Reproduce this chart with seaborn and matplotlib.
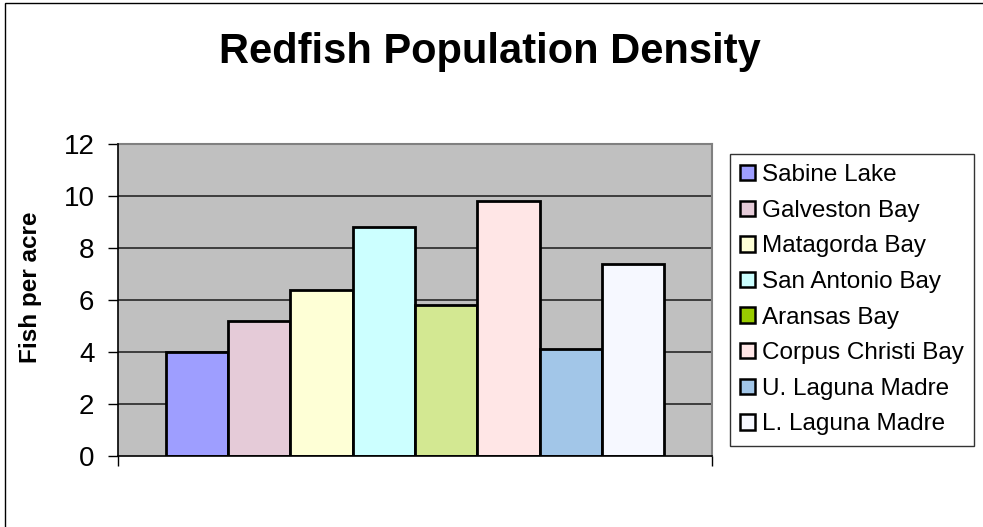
import matplotlib
matplotlib.use("Agg")
import matplotlib.pyplot as plt
from matplotlib.patches import Rectangle
import seaborn as sns
import pandas as pd

# Redfish survey results by bay system
bays = [
    "Sabine Lake",
    "Galveston Bay",
    "Matagorda Bay",
    "San Antonio Bay",
    "Aransas Bay",
    "Corpus Christi Bay",
    "U. Laguna Madre",
    "L. Laguna Madre",
]
density = [4.0, 5.2, 6.4, 8.8, 5.8, 9.8, 4.1, 7.4]
bar_colors = ["#9E9EFF", "#E5CBD8", "#FEFFD6", "#CCFFFF",
              "#D3E892", "#FFE6E6", "#A2C6E8", "#F6F8FF"]
legend_colors = ["#9E9EFF", "#E5CBD8", "#FEFFD6", "#CCFFFF",
                 "#99CC00", "#FFE6E6", "#A2C6E8", "#F6F8FF"]
y_ticks = [0, 2, 4, 6, 8, 10, 12]

sns.set_style("white")
plt.rcParams["font.family"] = ["Liberation Sans", "DejaVu Sans"]
plt.rcParams["text.color"] = "black"
plt.rcParams["xtick.color"] = "black"
plt.rcParams["ytick.color"] = "black"
plt.rcParams["axes.labelcolor"] = "black"

df = pd.DataFrame({"group": ["all"] * len(bays), "bay": bays, "density": density})

fig = plt.figure(figsize=(9.83, 5.27), dpi=100)
ax = fig.add_axes([118 / 983, 1 - 456 / 527, 594 / 983, 312 / 527])
ax.set_facecolor("#C0C0C0")

sns.barplot(data=df, x="group", y="density", hue="bay", hue_order=bays,
            palette=bar_colors, width=0.84, gap=0, edgecolor="black",
            linewidth=2.0, saturation=1, legend=False, ax=ax, zorder=3)

ax.set_xlim(-0.5, 0.5)
ax.set_ylim(0, 12)
ax.set_yticks(y_ticks)
ax.set_yticklabels([str(t) for t in y_ticks], fontsize=20)
ax.set_xticks([-0.5, 0.5])
ax.set_xticklabels(["", ""])
ax.set_xlabel("")
ax.set_ylabel("")
ax.tick_params(axis="y", direction="out", length=7, width=1, color="black",
               pad=10, left=True)
ax.tick_params(axis="x", direction="out", length=7, width=1, color="black",
               bottom=True)

for t in y_ticks[1:-1]:
    ax.axhline(t, color="#1a1a1a", linewidth=1.1, zorder=1)

for side in ("top", "right"):
    ax.spines[side].set_color("#808080")
    ax.spines[side].set_linewidth(1.5)
for side in ("left", "bottom"):
    ax.spines[side].set_color("black")
    ax.spines[side].set_linewidth(1.2)
    ax.spines[side].set_zorder(4)

fig.text(490 / 983, 1 - 63 / 527, "Redfish Population Density",
         fontsize=30, fontweight="bold", ha="center", va="baseline")
fig.text(31 / 983, 1 - 287 / 527, "Fish per acre", fontsize=17.5,
         fontweight="bold", rotation=90, ha="center", va="center")

handles = [Rectangle((0, 0), 1, 1, facecolor=c, edgecolor="black", linewidth=1.8)
           for c in legend_colors]
leg = fig.legend(handles, bays, loc="upper left",
                 bbox_to_anchor=(730 / 983, 1 - 154 / 527),
                 fontsize=17.5, frameon=True, fancybox=False, shadow=False,
                 handlelength=0.6, handleheight=0.6, handletextpad=0.3,
                 labelspacing=0.56, borderpad=0.42, borderaxespad=0)
leg.get_frame().set_edgecolor("black")
leg.get_frame().set_linewidth(1.0)
leg.get_frame().set_facecolor("white")

# chart area outline
fig.add_artist(Rectangle((4.5 / 983, -0.1), 1.2, 1.1 - 3 / 527,
                         transform=fig.transFigure, fill=False,
                         edgecolor="black", linewidth=1.0))

fig.savefig("out.png", dpi=100)
